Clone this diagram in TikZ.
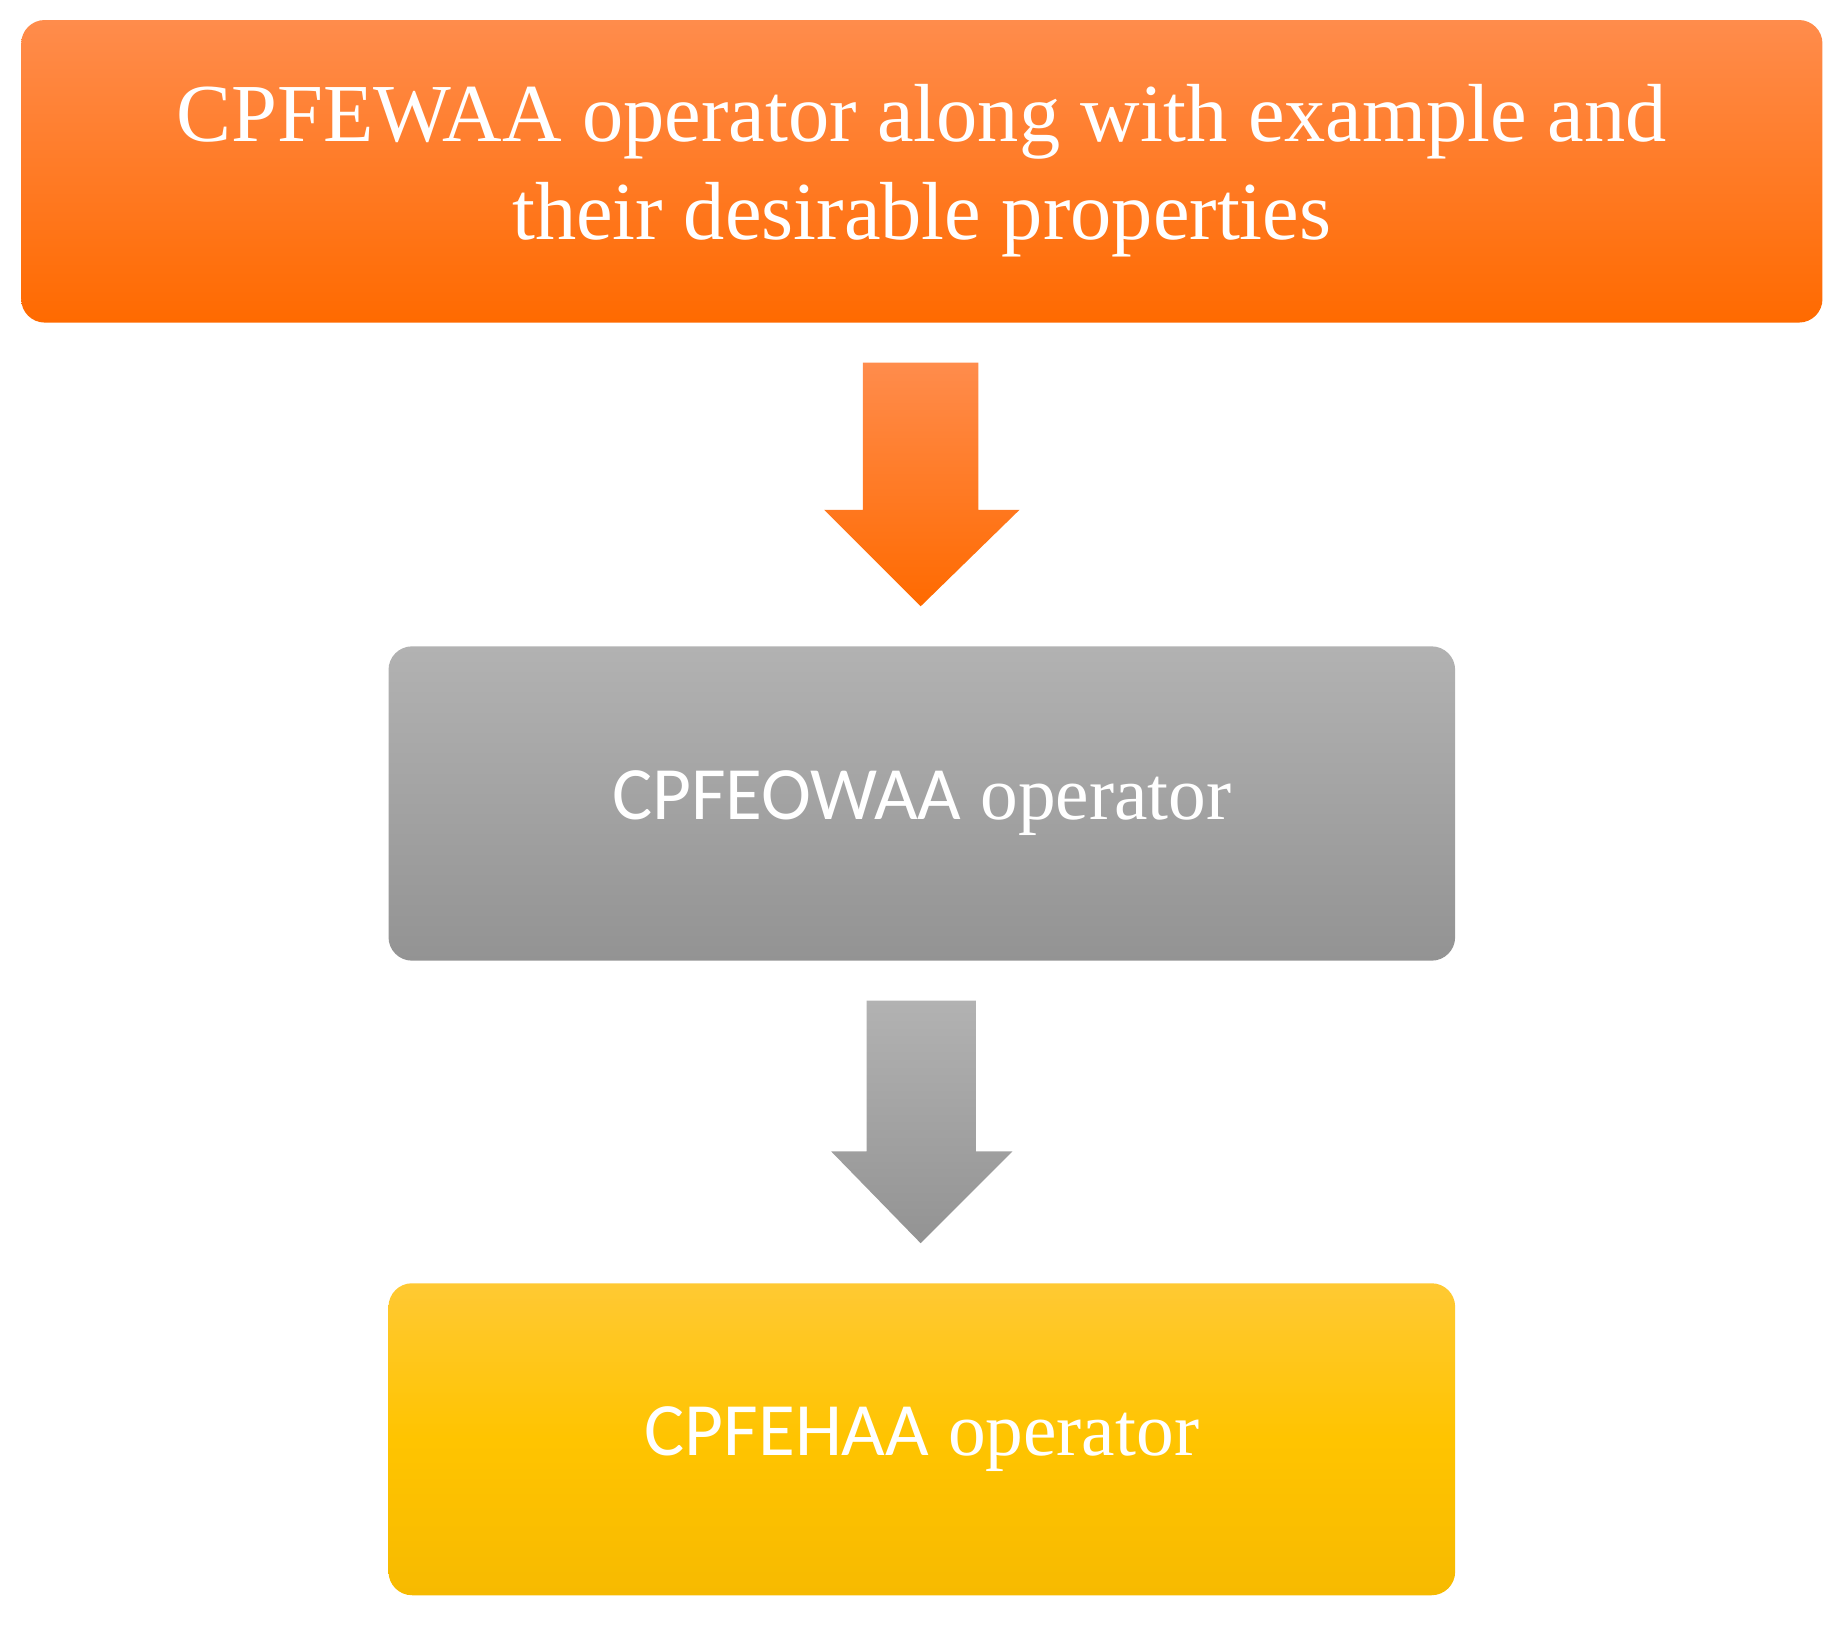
\documentclass[tikz,border=0pt]{standalone}
\usepackage{fontspec}
\setmainfont{Liberation Serif}
\newfontfamily\carl{Carlito}
\begin{document}
\begin{tikzpicture}[x=0.5pt,y=-0.5pt,
 box/.style={rounded corners=10pt,draw=none},
 lbl/.style={text=white,align=center}]
\useasboundingbox (0,0) rectangle (1568,1380);
\definecolor{orT}{HTML}{FF8C4C}\definecolor{orB}{HTML}{FF6A00}
\definecolor{grT}{HTML}{B2B2B2}\definecolor{grB}{HTML}{939393}
\definecolor{yeT}{HTML}{FFC933}\definecolor{yeM}{HTML}{FFC400}\definecolor{yeB}{HTML}{F7BA00}
\shade[box,top color=orT,bottom color=orB] (18,17) rectangle (1548,274);
\node[lbl,font=\fontsize{35}{42}\selectfont] (a) at (783,145) {CPFEWAA operator along with example and\\their desirable properties};
\shade[top color=orT,bottom color=orB] (733,308) -- (831,308) -- (831,433) -- (866,433) -- (782,515) -- (700,433) -- (733,433) -- cycle;
\shade[box,top color=grT,bottom color=grB] (330,549) rectangle (1236,816);
\node[lbl,font=\fontsize{32}{38}\selectfont] (b) at (783,682) {{\carl CPFEOWAA} operator};
\shade[top color=grT,bottom color=grB] (736,850) -- (829,850) -- (829,978) -- (860,978) -- (782,1056) -- (706,978) -- (736,978) -- cycle;
\shade[box,top color=yeT,bottom color=yeB,middle color=yeM] (330,1090) rectangle (1236,1355);
\node[lbl,font=\fontsize{32}{38}\selectfont] (c) at (783,1222) {{\carl CPFEHAA} operator};
\end{tikzpicture}
\end{document}
